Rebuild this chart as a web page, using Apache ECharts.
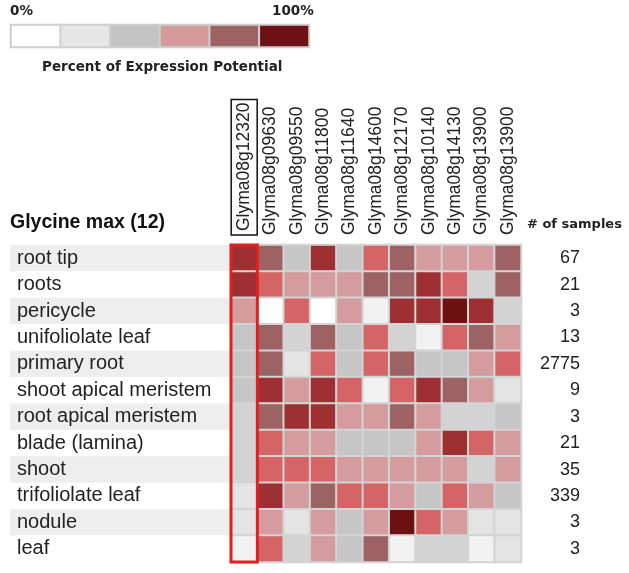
<!DOCTYPE html>
<html><head><meta charset="utf-8">
<script src="https://cdn.jsdelivr.net/npm/echarts@6/dist/echarts.min.js"></script>
<style>html,body{margin:0;padding:0;background:#fff}#c{width:629px;height:573px}</style>
</head><body><div id="c"></div>
<script>
// ---- data ----
const genes = ['Glyma08g12320','Glyma08g09630','Glyma08g09550','Glyma08g11800','Glyma08g11640','Glyma08g14600','Glyma08g12170','Glyma08g10140','Glyma08g14130','Glyma08g13900','Glyma08g13900'];
const tissues = ['root tip','roots','pericycle','unifoliolate leaf','primary root','shoot apical meristem','root apical meristem','blade (lamina)','shoot','trifoliolate leaf','nodule','leaf'];
const sampleCounts = [67,21,3,13,2775,9,3,21,35,339,3,3];
// expression level per tissue (row) and gene (column), 0 = none ... 9 = highest
const rootTip      = [8,7,4,8,4,6,7,5,5,5,7];
const roots        = [8,6,5,5,5,7,7,8,6,3,7];
const pericycle    = [5,0,6,0,5,1,8,8,9,8,3];
const unifoliolate = [4,7,3,7,4,6,3,1,6,7,5];
const primaryRoot  = [4,7,2,6,4,6,7,4,4,5,6];
const shootApical  = [4,8,5,8,6,1,6,8,7,5,2];
const rootApical   = [3,7,8,8,5,5,7,5,3,3,4];
const blade        = [3,6,5,5,4,4,4,5,8,6,5];
const shoot        = [3,6,6,6,5,5,5,5,5,3,5];
const trifoliolate = [2,8,5,7,6,6,5,4,6,5,4];
const nodule       = [2,5,2,5,4,5,9,6,5,2,2];
const leaf         = [1,6,3,5,4,7,1,3,3,1,2];
const expression = [rootTip,roots,pericycle,unifoliolate,primaryRoot,shootApical,rootApical,blade,shoot,trifoliolate,nodule,leaf];
const levelColors = ['#ffffff','#f2f2f2','#e4e4e4','#d3d3d3','#c6c6c6','#d49c9e','#d46466','#9c6264','#9e3034','#6c1012'];
const legendBins = [0,1,2,3,4,5];
const legendColors = ['#ffffff','#e6e6e6','#c4c4c4','#d49a9c','#9c6264','#6e1014'];

// ---- build ----
const heatData = [];
expression.forEach((row, r) => row.forEach((v, c) => heatData.push([c, r, v])));
const FONT = '"Liberation Sans", Arial, sans-serif';
const DV = '"DejaVu Sans", sans-serif';

const chart = echarts.init(document.getElementById('c'), null, {renderer: 'canvas'});
chart.setOption({
  animation: false,
  backgroundColor: '#ffffff',
  title: [
    {text: '0%', left: 10, top: 4, padding: 0, textStyle: {fontFamily: DV, fontSize: 13.5, fontWeight: 'bold', color: '#222'}},
    {text: '100%', left: 272, top: 4, padding: 0, textStyle: {fontFamily: DV, fontSize: 13.5, fontWeight: 'bold', color: '#222'}},
    {text: 'Percent of Expression Potential', left: 42, top: 60, padding: 0, textStyle: {fontFamily: DV, fontSize: 13.5, fontWeight: 'bold', color: '#222'}},
    {text: 'Glycine max (12)', left: 10, top: 213, padding: 0, textStyle: {fontFamily: FONT, fontSize: 19.5, fontWeight: 'bold', color: '#111'}},
    {text: '# of samples', left: 527, top: 218, padding: 0, textStyle: {fontFamily: DV, fontSize: 13, fontWeight: 'bold', color: '#222'}}
  ],
  grid: [
    {left: 231, top: 245, width: 290, height: 317},
    {left: 10, top: 245, width: 221, height: 317},
    {left: 11, top: 25, width: 298, height: 22}
  ],
  xAxis: [
    {gridIndex: 0, type: 'category', data: genes, position: 'top',
     axisLine: {show: false}, axisTick: {show: false}, splitLine: {show: false},
     axisLabel: {rotate: -90, interval: 0, margin: 10, fontSize: 17.5, fontFamily: FONT, color: '#222',
       formatter: (v, i) => i === 0 ? '{box|' + v + '}' : v,
       rich: {box: {fontSize: 17.5, fontFamily: FONT, color: '#222', borderColor: '#111', borderWidth: 1.5, padding: [4, 3, 4, 4]}}}},
    {gridIndex: 1, type: 'value', min: 0, max: 1, show: false},
    {gridIndex: 2, type: 'category', data: legendBins, show: false}
  ],
  yAxis: [
    {gridIndex: 0, type: 'category', data: tissues, inverse: true, show: false},
    {gridIndex: 0, type: 'category', data: sampleCounts.map(String), inverse: true, position: 'right',
     axisLine: {show: false}, axisTick: {show: false},
     axisLabel: {interval: 0, margin: 59, align: 'right', fontSize: 18, fontFamily: FONT, color: '#222'}},
    {gridIndex: 1, type: 'category', data: tissues, inverse: true, position: 'left',
     axisLine: {show: false}, axisTick: {show: false},
     splitArea: {show: true, interval: 0, areaStyle: {color: ['#eeeeee', '#ffffff']}},
     axisLabel: {inside: true, interval: 0, margin: 7, fontSize: 20, fontFamily: FONT, color: '#222'}},
    {gridIndex: 2, type: 'category', data: ['scale'], show: false}
  ],
  visualMap: [
    {type: 'piecewise', show: false, seriesIndex: 0, dimension: 2,
     pieces: levelColors.map((c, i) => ({value: i, color: c}))},
    {type: 'piecewise', show: false, seriesIndex: 2, dimension: 2,
     pieces: legendColors.map((c, i) => ({value: legendBins[i], color: c}))}
  ],
  series: [
    {type: 'heatmap', xAxisIndex: 0, yAxisIndex: 0, data: heatData,
     itemStyle: {borderColor: '#d4d4d4', borderWidth: 2}, emphasis: {disabled: true}},
    {type: 'custom', xAxisIndex: 0, yAxisIndex: 0, z: 10, silent: true,
     data: [[0, 0, tissues.length - 1]],
     renderItem: (params, api) => {
       const a = api.coord([api.value(0), api.value(1)]);
       const b = api.coord([api.value(0), api.value(2)]);
       const s = api.size([1, 1]);
       return {type: 'rect',
         shape: {x: a[0] - s[0] / 2, y: a[1] - s[1] / 2, width: s[0], height: b[1] - a[1] + s[1]},
         style: {fill: null, stroke: '#e3201e', lineWidth: 3}};
     }},
    {type: 'heatmap', xAxisIndex: 2, yAxisIndex: 3, data: legendBins.map(b => [b, 0, b]),
     itemStyle: {borderColor: '#cfcfcf', borderWidth: 2}, emphasis: {disabled: true}}
  ]
});
</script></body></html>
